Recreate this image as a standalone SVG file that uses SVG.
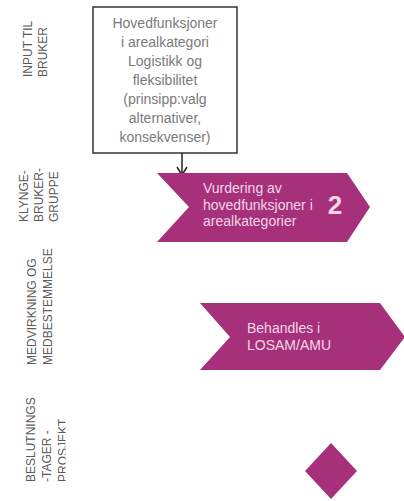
<svg xmlns="http://www.w3.org/2000/svg" width="404" height="501" viewBox="0 0 404 501">
<defs>
<style>
.lbl{font-family:"Liberation Sans",Arial,sans-serif;font-size:12px;fill:#5a5a5a}
.box{fill:#fff;stroke:#333;stroke-width:1.5}
.btxt{font-family:"Liberation Sans",Arial,sans-serif;font-size:14px;fill:#7a7a7a;text-anchor:middle}
.chev{fill:#a6307a}
.ctxt{font-family:"Liberation Sans",Arial,sans-serif;font-size:14px;fill:#f3d6e8}
.big{font-size:26px;font-weight:bold;text-anchor:middle}
.conn{fill:none;stroke:#222;stroke-width:1.5}
</style>
<clipPath id="clip3"><rect x="0" y="380" width="65.5" height="121"/></clipPath>
</defs>
<rect width="404" height="501" fill="#fff"/>
<g id="labels">
<text class="lbl" transform="translate(32,77) rotate(-90)">INPUT TIL</text>
<text class="lbl" transform="translate(47,77) rotate(-90)">BRUKER</text>
<text class="lbl" transform="translate(28,222) rotate(-90)">KLYNGE-</text>
<text class="lbl" transform="translate(43,222) rotate(-90)">BRUKER-</text>
<text class="lbl" transform="translate(58,222) rotate(-90)">GRUPPE</text>
<text class="lbl" transform="translate(36,365) rotate(-90)">MEDVIRKNING OG</text>
<text class="lbl" transform="translate(52,365) rotate(-90)">MEDBESTEMMELSE</text>
<text class="lbl" transform="translate(35,482) rotate(-90)">BESLUTNINGS</text>
<text class="lbl" transform="translate(51,482) rotate(-90)">-TAGER -</text>
<g clip-path="url(#clip3)"><text class="lbl" transform="translate(67,482) rotate(-90)">PROSJEKT</text></g>
</g>
<g id="input-box">
<rect class="box" x="93" y="7" width="144" height="146"/>
<text class="btxt" x="165" y="28">Hovedfunksjoner</text>
<text class="btxt" x="165" y="47">i arealkategori</text>
<text class="btxt" x="165" y="66">Logistikk og</text>
<text class="btxt" x="165" y="85">fleksibilitet</text>
<text class="btxt" x="165" y="104">(prinsipp:valg</text>
<text class="btxt" x="165" y="123">alternativer,</text>
<text class="btxt" x="165" y="142">konsekvenser)</text>
</g>
<g id="connectors">
<line class="conn" x1="182" y1="153" x2="182" y2="175"/>
<polyline class="conn" points="177,167 182,175 187,167"/>
</g>
<g id="vurdering">
<polygon class="chev" points="157,173 347,173 370,207 347,242 157,242 189,207"/>
<text class="ctxt" x="203" y="193">Vurdering av</text>
<text class="ctxt" x="203" y="209.5">hovedfunksjoner i</text>
<text class="ctxt" x="203" y="226">arealkategorier</text>
<text class="ctxt big" x="335" y="214">2</text>
</g>
<g id="behandles">
<polygon class="chev" points="200,303 380,303 405,337 380,370 200,370 230,337"/>
<text class="ctxt" x="247" y="333">Behandles i</text>
<text class="ctxt" x="247" y="350">LOSAM/AMU</text>
</g>
<g id="beslutning">
<polygon class="chev" points="331,443 357,471 331,499 305,471"/>
</g>
</svg>
